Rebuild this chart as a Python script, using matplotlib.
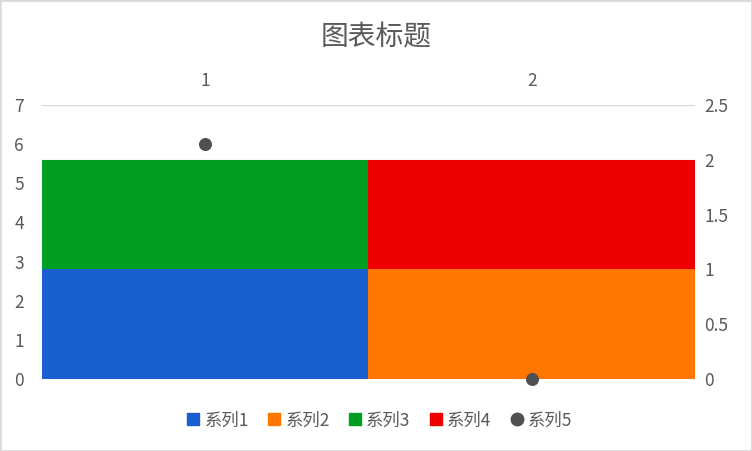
import matplotlib
matplotlib.use("Agg")
import matplotlib.pyplot as plt
from matplotlib.lines import Line2D

plt.rcParams['font.family'] = ['Noto Sans CJK SC', 'DejaVu Sans']

categories = ["1", "2"]
series_names = ["系列1", "系列2", "系列3", "系列4", "系列5"]
s1 = [1, 0]
s2 = [0, 1]
s3 = [1, 0]
s4 = [0, 1]
s5 = [6, 0]
colors = ["#1a5fd0", "#ff7600", "#009e21", "#ee0000", "#505050"]

fig = plt.figure(figsize=(7.52, 4.51), dpi=100)
ax = fig.add_axes([0.0559, 0.1597, 0.924 - 0.0559, 0.7672 - 0.1597])
ax2 = ax.twinx()
x = list(range(len(categories)))

# bars on the secondary (right) scale
bottom12 = [a + b for a, b in zip(s1, s2)]
ax.bar(x, s1, width=1.0, color=colors[0], zorder=2)
ax.bar(x, s2, width=1.0, color=colors[1], zorder=2)
ax.bar(x, s3, width=1.0, bottom=bottom12, color=colors[2], zorder=2)
ax.bar(x, s4, width=1.0, bottom=[b + c for b, c in zip(bottom12, s3)], color=colors[3], zorder=2)
ax.set_ylim(0, 2.5)
ax.set_xlim(-0.5, 1.5)
ax.set_yticks([0, 0.5, 1, 1.5, 2, 2.5])
ax.set_yticklabels(["0", "0.5", "1", "1.5", "2", "2.5"])
ax.grid(axis='y', color='#d9d9d9', linewidth=1, zorder=0)
ax.set_axisbelow(True)
ax.xaxis.tick_top()
ax.set_xticks(x)
ax.set_xticklabels(categories)
ax.tick_params(axis='both', length=0, colors='#595959', labelsize=12.5)
ax.tick_params(axis='x', pad=11)
ax.tick_params(axis='y', pad=7)
ax.yaxis.tick_right()
for sp in ax.spines.values():
    sp.set_visible(False)

# dots on primary (left) scale
ax2.scatter(x, s5, s=70, color=colors[4], zorder=5, clip_on=False)
ax2.set_ylim(0, 7)
ax2.set_yticks(range(0, 8))
ax2.yaxis.tick_left()
ax2.tick_params(axis='y', length=0, colors='#595959', labelsize=12.5, pad=13)
for sp in ax2.spines.values():
    sp.set_visible(False)

fig.text(0.50, 0.918, "图表标题", ha='center', va='center', fontsize=20, color='#595959')

handles = [Line2D([], [], marker='s', linestyle='', markersize=8, color=c) for c in colors[:4]]
handles.append(Line2D([], [], marker='o', linestyle='', markersize=9, color=colors[4]))
leg = fig.legend(handles, series_names, loc='center', bbox_to_anchor=(0.505, 0.068), ncol=5,
                 frameon=False, fontsize=12.5, handlelength=0.7, handletextpad=0.3,
                 columnspacing=1.1)
for t in leg.get_texts():
    t.set_color('#595959')

fig.patches.append(plt.Rectangle((0, 0), 1, 1, transform=fig.transFigure, fill=False,
                                 edgecolor='#d9d9d9', linewidth=2))
fig.savefig("out.png", dpi=100)
